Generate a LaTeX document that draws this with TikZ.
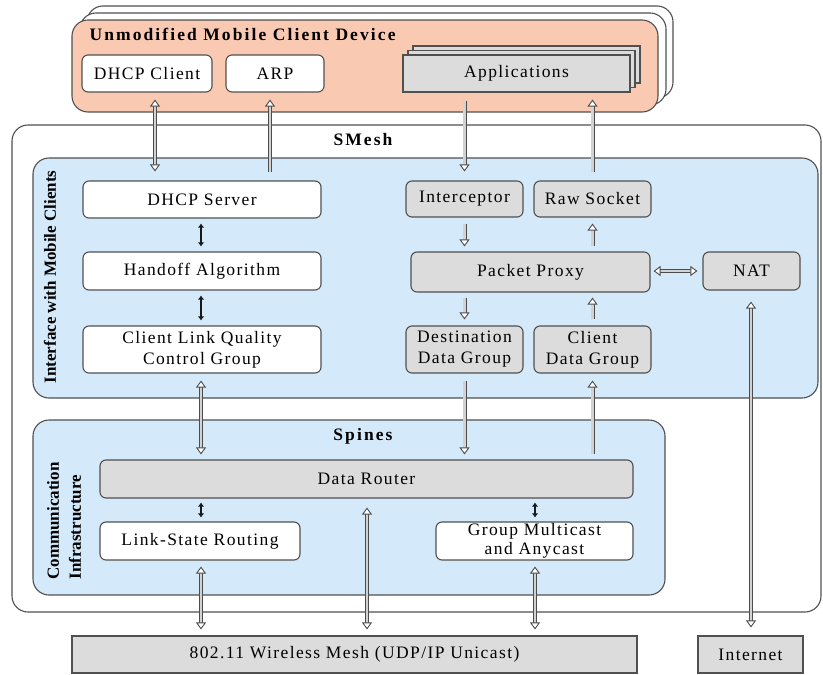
\documentclass[tikz,border=0pt]{standalone}
\usepackage{fontspec}
\setmainfont{Liberation Serif}[LetterSpace=8]
\usetikzlibrary{arrows.meta,calc}
\definecolor{peach}{RGB}{249,201,177}
\definecolor{paleblue}{RGB}{212,233,249}
\definecolor{boxgray}{RGB}{220,220,220}
\definecolor{edge}{RGB}{80,80,80}
\tikzset{
  lbl/.style={font=\fontsize{17.5}{21}\selectfont, text=black},
  ttl/.style={font=\bfseries\fontsize{17.5}{18}\selectfont\addfontfeatures{LetterSpace=12}, text=black},
  vttl/.style={font=\bfseries\fontsize{17}{22}\selectfont\addfontfeatures{LetterSpace=0}, text=black, rotate=90},
  rbox/.style={lbl, draw=edge, line width=1.1pt, rounded corners=6pt, fill=white,
    inner sep=0pt, align=center},
  gbox/.style={rbox, fill=boxgray},
  sbox/.style={lbl, draw=edge, line width=1.1pt, fill=boxgray, inner sep=0pt},
  panel/.style={draw=edge, line width=1.1pt, rounded corners=16pt, inner sep=0pt},
  hol/.style={draw=black!70, double=gray!35, double distance=2.2pt, line width=0.9pt},
  hh/.style={-{Triangle[open, length=7pt, width=10pt, fill=white]}},
  hb/.style={{Triangle[open, length=7pt, width=10pt, fill=white]}-{Triangle[open, length=7pt, width=10pt, fill=white]}},
  blk/.style={line width=2.2pt, black!90, {Latex[length=4pt,width=6.5pt]}-{Latex[length=4pt,width=6.5pt]}},
}
\begin{document}
\begin{tikzpicture}[x=1pt, y=-1pt]
\useasboundingbox (0,0) rectangle (823,675);

% mobile client device, stacked copies behind
\node[panel, fill=white, minimum width=586, minimum height=92] at (380,52) {};
\node[panel, fill=white, minimum width=586, minimum height=92] at (373,59) {};
\node[panel, fill=peach, minimum width=586, minimum height=92] (dev) at (365,66) {};
\node[ttl, anchor=west] (devtitle) at (86,34) {Unmodified Mobile Client Device};

\node[rbox, minimum width=130, minimum height=37] (dhcpc) at (147,73.5) {DHCP Client};
\node[rbox, minimum width=98, minimum height=37] (arp) at (275,73.5) {ARP};
% applications, stacked
\node[sbox, minimum width=227, minimum height=37] at (526.5,64.5) {};
\node[sbox, minimum width=227, minimum height=37] at (521.5,69) {};
\node[sbox, minimum width=227, minimum height=37] (apps) at (516.5,73.5) {Applications};

% SMesh outer frame
\node[panel, minimum width=809, minimum height=487] (smesh) at (416.5,368.5) {};
\node[ttl] (smeshtitle) at (363,140) {SMesh};

% interface with mobile clients
\node[panel, fill=paleblue, minimum width=785, minimum height=240] (iface) at (425.5,278) {};
\node[vttl] (ifacelbl) at (50,277) {Interface with Mobile Clients};

\node[rbox, minimum width=238, minimum height=37] (dhcps) at (202,199.5) {DHCP Server};
\node[rbox, minimum width=238, minimum height=38] (handoff) at (202,271) {Handoff Algorithm};
\node[rbox, minimum width=238, minimum height=47] (clq) at (202,349.5) {Client Link Quality\\Control Group};

\node[gbox, minimum width=117, minimum height=36] (intercept) at (464.5,199) {Interceptor};
\node[gbox, minimum width=117, minimum height=36] (rawsock) at (592.5,199) {Raw Socket};
\node[gbox, minimum width=239, minimum height=40] (proxy) at (530.5,272) {Packet Proxy};
\node[gbox, minimum width=97, minimum height=38] (nat) at (751.5,271) {NAT};
\node[gbox, minimum width=117, minimum height=47] (destdg) at (464.5,349.5) {Destination\\Data Group};
\node[gbox, minimum width=117, minimum height=47] (clidg) at (592.5,349.5) {Client\\Data Group};

% communication infrastructure
\node[panel, fill=paleblue, minimum width=632, minimum height=175] (spines) at (349,507.5) {};
\node[ttl] (spinestitle) at (363,436) {Spines};
\node[vttl, align=left] (commlbl) at (64,521) {Communication\\Infrastructure};

\node[gbox, minimum width=533, minimum height=38] (router) at (366.5,479) {Data Router};
\node[rbox, minimum width=200, minimum height=38] (lsr) at (200,541) {Link-State Routing};
\node[rbox, minimum width=197, minimum height=38, font=\fontsize{17.5}{19}\selectfont] (gma) at (534.5,541) {Group Multicast\\and Anycast};

% networks below
\node[sbox, minimum width=565, minimum height=37] (mesh) at (354.5,654.5) {802.11 Wireless Mesh (UDP/IP Unicast)};
\node[sbox, minimum width=105, minimum height=37] (inet) at (750.5,654.5) {Internet};

% connectors between device and SMesh
\draw[hol, hb] ($(dhcpc.south)+(8,7)$) -- ($(dhcps.north)+(-47,-9)$);
\draw[hol, hh] ($(dhcps.north)+(68,-8)$) -- ($(arp.south)+(-5,7)$);
\draw[hol, hh] ($(apps.south)+(-52,8)$) -- ($(intercept.north)+(0,-9)$);
\draw[hol, hh] ($(rawsock.north)+(0,-8)$) -- ($(apps.south)+(76,7)$);

% packet path inside the interface
\draw[hol, hh] ($(intercept.south)+(0,6)$) -- ($(proxy.north)+(-66,-5)$);
\draw[hol, hh] ($(proxy.north)+(62,-5)$) -- ($(rawsock.south)+(0,6)$);
\draw[hol, hb] ($(proxy.east)+(3,-1)$) -- ($(nat.west)+(-5,0)$);
\draw[hol, hh] ($(proxy.south)+(-66,5)$) -- ($(destdg.north)+(0,-6)$);
\draw[hol, hh] ($(clidg.north)+(0,-6)$) -- ($(proxy.south)+(62,5)$);

% client management chain
\draw[blk] ($(dhcps.south)+(-1,5)$) -- ($(handoff.north)+(-1,-5)$);
\draw[blk] ($(handoff.south)+(-1,5)$) -- ($(clq.north)+(-1,-5)$);

% interface to Spines
\draw[hol, hb] ($(clq.south)+(-1,7)$) -- ($(router.north)+(-165.5,-5)$);
\draw[hol, hh] ($(destdg.south)+(0,7)$) -- ($(router.north)+(98,-5)$);
\draw[hol, hh] ($(router.north)+(226,-5)$) -- ($(clidg.south)+(0,7)$);

% inside Spines
\draw[blk] ($(router.south)+(-165.5,4)$) -- ($(lsr.north)+(1,-4)$);
\draw[blk] ($(router.south)+(168.5,4)$) -- ($(gma.north)+(0.5,-4)$);

% down to the networks
\draw[hol, hb] ($(lsr.south)+(1,6)$) -- ($(mesh.north)+(-153.5,-6)$);
\draw[hol, hb] ($(router.south)+(0.5,9)$) -- ($(mesh.north)+(12.5,-6)$);
\draw[hol, hb] ($(gma.south)+(0.5,6)$) -- ($(mesh.north)+(180.5,-6)$);
\draw[hol, hb] ($(nat.south)+(-0.5,11)$) -- ($(inet.north)+(0.5,-8)$);
\end{tikzpicture}
\end{document}
